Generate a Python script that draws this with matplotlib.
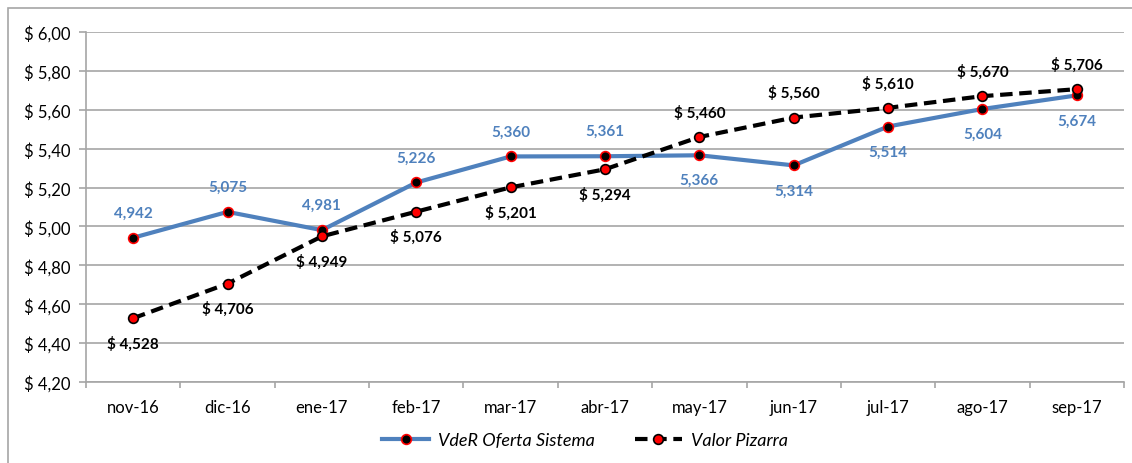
import numpy as np
import matplotlib
matplotlib.use("Agg")
import matplotlib.pyplot as plt
from matplotlib.patches import Rectangle

plt.rcParams['font.family'] = ['Lato', 'DejaVu Sans']

meses = ['nov-16', 'dic-16', 'ene-17', 'feb-17', 'mar-17', 'abr-17',
         'may-17', 'jun-17', 'jul-17', 'ago-17', 'sep-17']
vder = [4.942, 5.075, 4.981, 5.226, 5.360, 5.361, 5.366, 5.314, 5.514, 5.604, 5.674]
vder_labels = ['4,942', '5,075', '4,981', '5,226', '5,360', '5,361',
               '5,366', '5,314', '5,514', '5,604', '5,674']
pizarra = [4.528, 4.706, 4.949, 5.076, 5.201, 5.294, 5.460, 5.560, 5.610, 5.670, 5.706]
yticks = [4.2, 4.4, 4.6, 4.8, 5.0, 5.2, 5.4, 5.6, 5.8, 6.0]

blue = '#4F81BD'
grid_c = '#A6A6A6'

fig = plt.figure(figsize=(11.32, 4.64), dpi=100)
fig.patches.append(Rectangle((8/1132, -0.01), 1.1, 1-9/464+0.01, transform=fig.transFigure,
                             fill=False, edgecolor='#A6A6A6', lw=1.2))
ax = fig.add_axes([86/1132, 81/464, 1038/1132, 350/464])

x = np.arange(len(meses))
ax.plot(x, vder, color=blue, lw=3, marker='o', ms=7, mfc='black', mec='red', mew=1.2,
        label='VdeR Oferta Sistema', zorder=3)
ax.plot(x, pizarra, color='black', lw=3, ls=(0, (3, 1.6)), marker='o', ms=7, mfc='red',
        mec='black', mew=1.2, label='Valor Pizarra', zorder=4)

for i in range(len(meses)):
    off = 18 if i <= 5 else -18
    ax.annotate(vder_labels[i], (x[i], vder[i]), xytext=(0, off), textcoords='offset points',
                ha='center', va='center', color=blue, fontsize=11, fontweight='bold')
    off = -18 if i <= 5 else 18
    ax.annotate('$ ' + ('%.3f' % pizarra[i]).replace('.', ','), (x[i], pizarra[i]),
                xytext=(0, off), textcoords='offset points',
                ha='center', va='center', color='black', fontsize=11, fontweight='bold')

ax.set_xlim(-0.5, len(meses) - 0.5)
ax.set_ylim(4.2, 6.0)
ax.set_yticks(yticks)
ax.set_yticklabels(['$ ' + ('%.2f' % v).replace('.', ',') for v in yticks])
ax.set_xticks(x)
ax.set_xticklabels(meses)
ax.set_xticks(np.arange(-0.5, len(meses)), minor=True)
ax.tick_params(axis='x', which='major', length=0, pad=12, labelsize=12)
ax.tick_params(axis='x', which='minor', length=4, color=grid_c, width=1.2)
ax.tick_params(axis='y', length=5, color=grid_c, width=1.2, pad=6, labelsize=12)
ax.grid(axis='y', color=grid_c, lw=1.2)
ax.set_axisbelow(True)
for s in ['top', 'right']:
    ax.spines[s].set_visible(False)
for s in ['left', 'bottom']:
    ax.spines[s].set_color(grid_c)
    ax.spines[s].set_linewidth(1.2)

leg = fig.legend(loc='center', bbox_to_anchor=(585/1132, 1 - 441/464), ncol=2, frameon=False,
                 prop={'style': 'italic', 'size': 13}, handlelength=2.6, handletextpad=0.5,
                 columnspacing=2.2)

fig.savefig('out.png', dpi=100)
